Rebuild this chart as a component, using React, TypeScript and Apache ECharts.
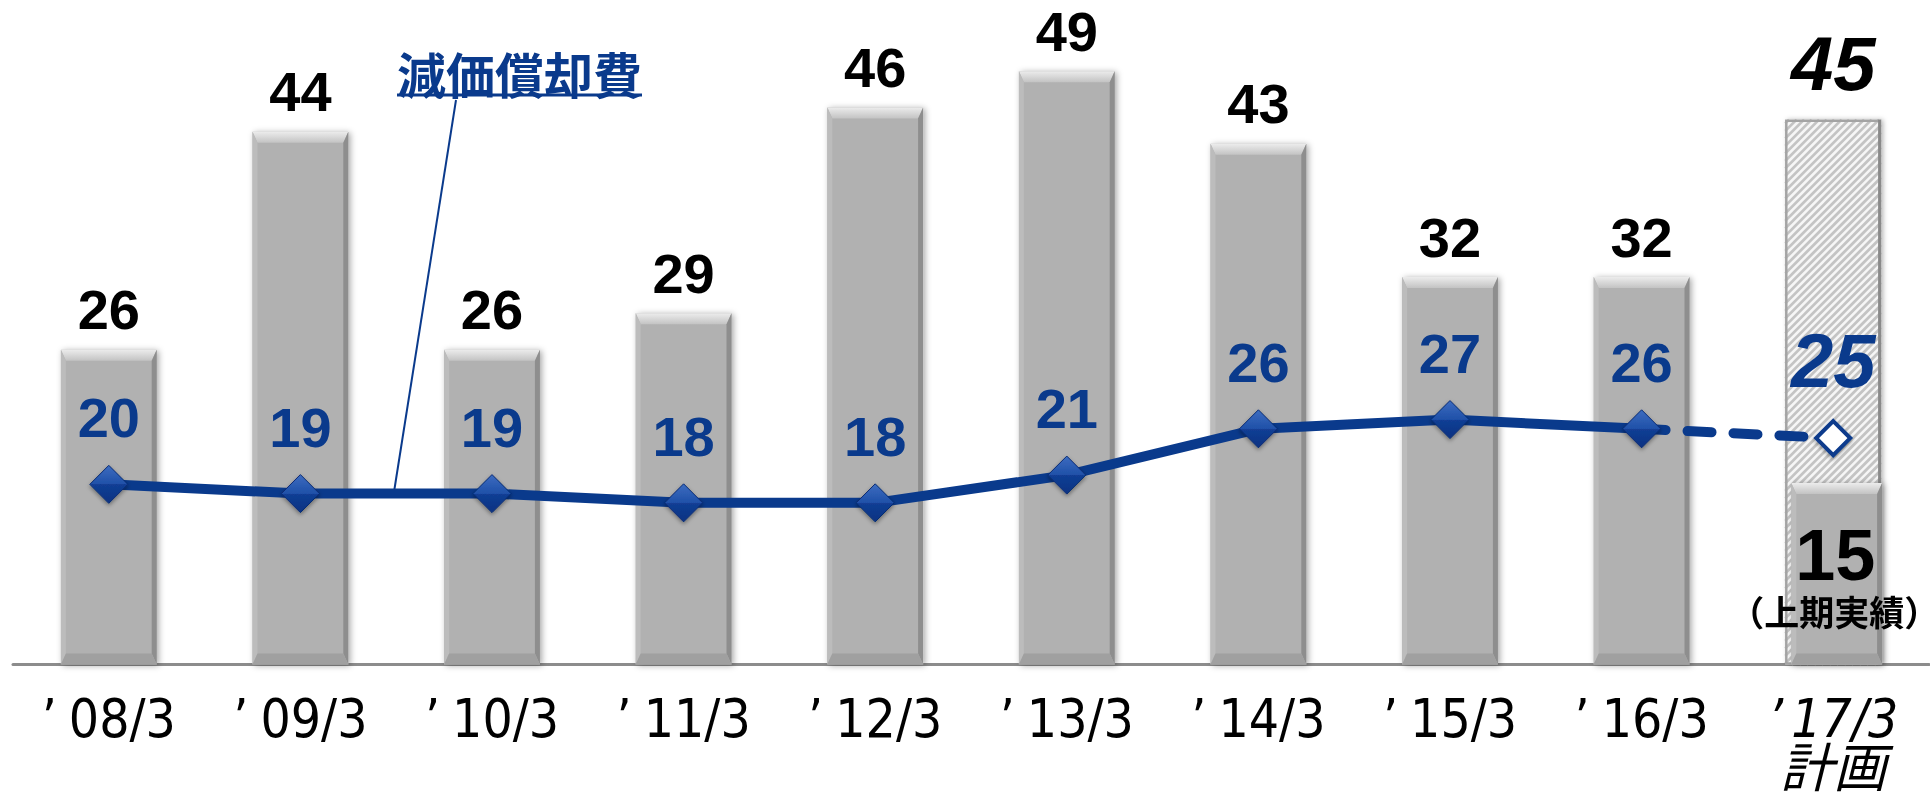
import React, { useEffect, useRef } from "react";
import * as echarts from "echarts";

const categories = ["’08/3", "’09/3", "’10/3", "’11/3", "’12/3", "’13/3", "’14/3", "’15/3", "’16/3", "’17/3\n計画"];
const capexActual = [26, 44, 26, 29, 46, 49, 43, 32, 32];
const capexPlan = 45;
const capexFirstHalf = 15;
const depreciation = [20, 19, 19, 18, 18, 21, 26, 27, 26];
const depreciationPlan = 25;
const depreciationName = "減価償却費";
const firstHalfNote = "（上期実績）";

const BLUE = "#0a3a8c";
const NUM_FONT = '"Liberation Sans", Arial, sans-serif';
const AXIS_FONT = '"DejaVu Sans Condensed", "Liberation Sans Narrow", "Noto Sans CJK JP", sans-serif';

function bevel(x0: number, y0: number, x1: number, y1: number) {
  const b = 11;
  const s = 5;
  const w = x1 - x0;
  const h = y1 - y0;
  return [
    {
      type: "rect",
      shape: { x: x0, y: y0, width: w, height: h },
      style: { fill: "#b1b1b1", shadowBlur: 6, shadowColor: "rgba(0,0,0,0.35)", shadowOffsetX: 2, shadowOffsetY: 1 },
    },
    {
      type: "polygon",
      shape: { points: [[x0, y0], [x1, y0], [x1 - s, y0 + b], [x0 + s, y0 + b]] },
      style: {
        fill: { type: "linear", x: 0, y: 0, x2: 0, y2: 1, colorStops: [{ offset: 0, color: "#ececec" }, { offset: 1, color: "#c3c3c3" }] },
      },
    },
    {
      type: "polygon",
      shape: { points: [[x0, y0], [x0 + s, y0 + b], [x0 + s, y1 - b], [x0, y1]] },
      style: { fill: "#bcbcbc" },
    },
    {
      type: "polygon",
      shape: { points: [[x1, y0], [x1, y1], [x1 - s, y1 - b], [x1 - s, y0 + b]] },
      style: { fill: "#8e8e8e" },
    },
    {
      type: "polygon",
      shape: { points: [[x0, y1], [x0 + s, y1 - b], [x1 - s, y1 - b], [x1, y1]] },
      style: { fill: "#a0a0a0" },
    },
  ];
}

export default function App() {
  const ref = useRef<HTMLDivElement>(null);
  useEffect(() => {
    if (!ref.current) return;
    const chart = echarts.init(ref.current, undefined, { renderer: "svg" });

    const barData = capexActual.map((v, i) => [i, v]);
    const lastIdx = categories.length - 1;

    const barRender = (params: any, api: any) => {
      const i = api.value(0);
      const v = api.value(1);
      const top = api.coord([i, v]);
      const base = api.coord([i, 0]);
      const w = api.size([1, 0])[0] * 0.5;
      const x0 = top[0] - w / 2;
      const x1 = top[0] + w / 2;
      return {
        type: "group",
        children: [
          ...bevel(x0, top[1], x1, base[1]),
          {
            type: "text",
            x: top[0],
            y: top[1] - 40,
            style: { text: String(v), fill: "#000", fontSize: 56, fontWeight: "bold", fontFamily: NUM_FONT, align: "center", verticalAlign: "middle" },
          },
        ],
      };
    };

    const halfRender = (params: any, api: any) => {
      const i = api.value(0);
      const v = api.value(1);
      const top = api.coord([i, v]);
      const base = api.coord([i, 0]);
      const w = api.size([1, 0])[0] * 0.5;
      const x0 = top[0] - w / 2 + 6;
      const x1 = top[0] + w / 2 + 1;
      return {
        type: "group",
        children: [
          ...bevel(x0, top[1], x1, base[1]),
          {
            type: "text",
            x: top[0] + 2,
            y: top[1] + 72,
            style: { text: String(v), fill: "#000", fontSize: 72, fontWeight: "bold", fontFamily: NUM_FONT, align: "center", verticalAlign: "middle" },
          },
          {
            type: "text",
            x: top[0] + 1,
            y: top[1] + 128,
            style: { text: firstHalfNote, fill: "#000", fontSize: 35, fontWeight: "bold", fontFamily: '"Noto Sans CJK JP", sans-serif', align: "center", verticalAlign: "middle" },
          },
        ],
      };
    };

    const hatchRender = (params: any, api: any) => {
      const i = api.value(0);
      const v = api.value(1);
      const top = api.coord([i, v]);
      const base = api.coord([i, 0]);
      const w = api.size([1, 0])[0] * 0.5;
      const x0 = top[0] - w / 2;
      const x1 = top[0] + w / 2;
      const y0 = top[1];
      const y1 = base[1];
      const lines: any[] = [];
      const step = 7.5;
      for (let c = x0 + y0 + step / 2; c < x1 + y1; c += step) {
        const xa = Math.max(x0, c - y1);
        const xb = Math.min(x1, c - y0);
        if (xb > xa) {
          lines.push({
            type: "line",
            shape: { x1: xa, y1: c - xa, x2: xb, y2: c - xb },
            style: { stroke: "#c4c4c4", lineWidth: 2.8 },
          });
        }
      }
      return {
        type: "group",
        children: [
          {
            type: "rect",
            shape: { x: x0, y: y0, width: x1 - x0, height: y1 - y0 },
            style: { fill: "#f6f6f6", shadowBlur: 5, shadowColor: "rgba(0,0,0,0.3)", shadowOffsetX: 2 },
          },
          ...lines,
          {
            type: "rect",
            shape: { x: x0 + 1, y: y0 + 1, width: x1 - x0 - 2, height: y1 - y0 - 2 },
            style: { fill: "none", stroke: "#a4a4a4", lineWidth: 2.5 },
          },
          {
            type: "line",
            shape: { x1: x1 - 1.5, y1: y0, x2: x1 - 1.5, y2: y1 },
            style: { stroke: "#8a8a8a", lineWidth: 3 },
          },
          {
            type: "text",
            x: top[0],
            y: top[1] - 56,
            style: { text: String(v), fill: "#000", fontSize: 76, fontWeight: "bold", fontStyle: "italic", fontFamily: NUM_FONT, align: "center", verticalAlign: "middle" },
          },
        ],
      };
    };

    const diamondFill = {
      type: "linear",
      x: 0,
      y: 0,
      x2: 0,
      y2: 1,
      colorStops: [
        { offset: 0, color: "#3d6cc0" },
        { offset: 0.5, color: "#1f50a8" },
        { offset: 0.5, color: "#123f95" },
        { offset: 1, color: "#0a3282" },
      ],
    };

    const dashedData: any[] = categories.map((_, i) => {
      if (i === lastIdx - 1) return { value: depreciation[depreciation.length - 1], symbol: "none", label: { show: false } };
      if (i === lastIdx) return { value: depreciationPlan };
      return "-";
    });

    const labelFormatter = (v: string, idx: number) => {
      const lines = v.split("\n");
      const italic = idx === lastIdx;
      const q = italic ? "qi" : "q";
      const d = italic ? "di" : "d";
      return lines
        .map((s) => (s.startsWith("’") ? `{${q}|’}{${d}|${s.slice(1)}}` : `{${d}|${s}}`))
        .join("\n");
    };

    const LS = 50;
    const FS = 53;

    const option: any = {
      animation: false,
      grid: { left: 13, right: 1, top: 0, bottom: 120, containLabel: false },
      xAxis: {
        type: "category",
        data: categories,
        axisTick: { show: false },
        axisLine: { lineStyle: { color: "#8c8c8c", width: 3 } },
        axisLabel: {
          interval: 0,
          color: "#000",
          fontSize: FS,
          lineHeight: LS,
          fontFamily: AXIS_FONT,
          margin: 29,
          formatter: labelFormatter,
          rich: {
            q: { fontSize: FS, lineHeight: LS, fontFamily: AXIS_FONT, color: "#000", padding: [0, 12, 0, 0] },
            d: { fontSize: FS, lineHeight: LS, fontFamily: AXIS_FONT, color: "#000" },
            qi: { fontSize: FS, lineHeight: LS, fontFamily: AXIS_FONT, color: "#000", fontStyle: "italic", padding: [0, 8, 0, 0] },
            di: { fontSize: FS, lineHeight: LS, fontFamily: AXIS_FONT, color: "#000", fontStyle: "italic" },
          },
        },
      },
      yAxis: [
        { type: "value", min: 0, max: 54.88, show: false, splitLine: { show: false } },
        { type: "value", min: 0.53, max: 72.34, show: false, splitLine: { show: false } },
      ],
      series: [
        {
          type: "custom",
          name: "plan",
          renderItem: hatchRender,
          data: [[lastIdx, capexPlan]],
          encode: { x: 0, y: 1 },
          z: 1,
        },
        {
          type: "custom",
          name: "capex",
          renderItem: barRender,
          data: barData,
          encode: { x: 0, y: 1 },
          z: 2,
        },
        {
          type: "custom",
          name: "firstHalf",
          renderItem: halfRender,
          data: [[lastIdx, capexFirstHalf]],
          encode: { x: 0, y: 1 },
          z: 2,
        },
        {
          type: "line",
          name: "planDep",
          yAxisIndex: 1,
          data: dashedData,
          symbol: "diamond",
          symbolSize: 34,
          z: 4,
          lineStyle: { color: BLUE, width: 10, type: [24, 22], cap: "round" },
          itemStyle: { color: "#ffffff", borderColor: BLUE, borderWidth: 4, shadowBlur: 4, shadowColor: "rgba(0,0,0,0.35)", shadowOffsetY: 2 },
          label: {
            show: true,
            position: "top",
            distance: 21,
            color: BLUE,
            fontSize: 76,
            fontWeight: "bold",
            fontStyle: "italic",
            fontFamily: NUM_FONT,
          },
        },
        {
          type: "line",
          name: depreciationName,
          yAxisIndex: 1,
          data: depreciation,
          symbol: "diamond",
          symbolSize: 38,
          z: 5,
          lineStyle: { color: BLUE, width: 10, cap: "round" },
          itemStyle: { color: diamondFill, borderColor: "#072c74", borderWidth: 1, shadowBlur: 4, shadowColor: "rgba(0,0,0,0.4)", shadowOffsetY: 2 },
          label: {
            show: true,
            position: "top",
            distance: 19,
            color: BLUE,
            fontSize: 56,
            fontWeight: "bold",
            fontFamily: NUM_FONT,
          },
        },
      ],
      graphic: [
        {
          type: "text",
          x: 397,
          y: 72,
          style: { text: depreciationName, fill: BLUE, fontSize: 49, fontWeight: "bold", fontFamily: '"Noto Sans CJK JP", sans-serif', verticalAlign: "middle" },
        },
        { type: "line", shape: { x1: 397, y1: 95, x2: 642, y2: 95 }, style: { stroke: BLUE, lineWidth: 3 } },
        { type: "line", shape: { x1: 456, y1: 100, x2: 394, y2: 492 }, style: { stroke: BLUE, lineWidth: 2 } },
      ],
    };
    chart.setOption(option);
    return () => chart.dispose();
  }, []);
  return <div ref={ref} style={{ position: "fixed", left: 0, top: 0, width: 1930, height: 795 }} />;
}
